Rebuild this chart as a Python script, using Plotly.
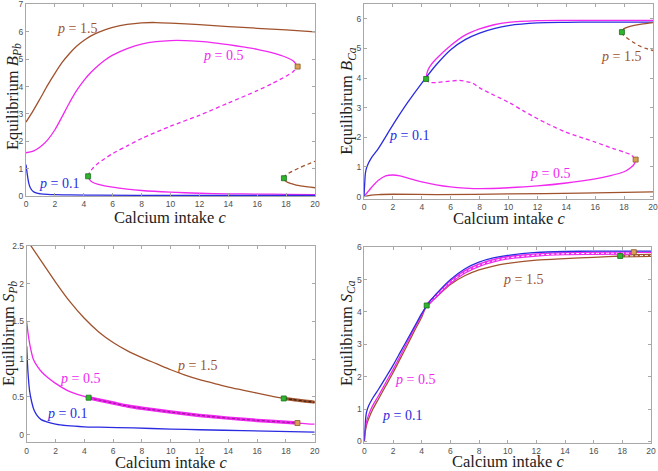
import plotly.graph_objects as go
from plotly.subplots import make_subplots

# ── colours ──────────────────────────────────────────────────────────
BLUE = "#2B2BE0"
MAGENTA = "#F028F0"
BROWN = "#A0522D"
GREEN = "#2DB52D"
ORANGE = "#D9A055"
FRAME = "#A8A8A8"
TICK = "#505050"
SERIF = "Liberation Serif, Times New Roman, serif"

# ── top-left: equilibrium B_Pb ───────────────────────────────────────
bpb_c_15 = [0, 0.5, 1, 1.5, 2, 2.5, 3, 3.5, 4, 4.5, 5, 5.5, 6, 7, 8, 9, 10, 12, 14, 16, 18, 20]
bpb_y_15 = [2.7, 3.12, 3.58, 4.05, 4.48, 4.88, 5.2, 5.47, 5.68, 5.85, 5.98, 6.08, 6.16, 6.27, 6.33, 6.34, 6.32, 6.26, 6.19, 6.13, 6.07, 6.0]
bpb_c_15_lo = [17.85, 17.9, 18, 18.3, 18.7, 19, 19.5, 20]
bpb_y_15_lo = [0.65, 0.58, 0.53, 0.46, 0.4, 0.37, 0.33, 0.3]
bpb_c_15_un = [17.85, 17.95, 18.2, 18.6, 19, 19.5, 20]
bpb_y_15_un = [0.65, 0.75, 0.84, 0.95, 1.05, 1.16, 1.27]
bpb_c_05_hi = [0, 0.5, 1, 1.5, 2, 2.5, 3, 3.5, 4, 4.5, 5, 5.5, 6, 7, 8, 9, 10, 11, 12, 13, 14, 15, 16, 17, 18, 18.5, 18.8]
bpb_y_05_hi = [1.58, 1.64, 1.8, 2.05, 2.42, 2.9, 3.4, 3.85, 4.22, 4.52, 4.77, 4.98, 5.15, 5.39, 5.55, 5.64, 5.68, 5.68, 5.65, 5.6, 5.53, 5.45, 5.36, 5.24, 5.07, 4.93, 4.73]
bpb_c_05_un = [4.3, 4.4, 4.6, 5, 6, 7, 8, 10, 12, 14, 16, 17, 18, 18.5, 18.8]
bpb_y_05_un = [0.72, 0.86, 1.0, 1.2, 1.55, 1.83, 2.1, 2.55, 2.95, 3.4, 3.85, 4.1, 4.38, 4.55, 4.73]
bpb_c_05_lo = [4.3, 4.4, 4.6, 5, 6, 7, 8, 10, 12, 14, 16, 18, 20]
bpb_y_05_lo = [0.72, 0.6, 0.5, 0.42, 0.32, 0.25, 0.2, 0.14, 0.1, 0.08, 0.07, 0.06, 0.05]
bpb_c_01 = [0, 0.05, 0.1, 0.2, 0.3, 0.5, 0.75, 1, 1.5, 2, 3, 5, 10, 15, 20]
bpb_y_01 = [1.15, 0.95, 0.75, 0.45, 0.3, 0.16, 0.1, 0.08, 0.06, 0.05, 0.04, 0.03, 0.02, 0.02, 0.02]
bpb_lp = ([4.3, 17.85], [0.72, 0.65])
bpb_bp = ([18.8], [4.73])

# ── top-right: equilibrium B_Ca ──────────────────────────────────────
bca_c_01 = [0, 0.05, 0.1, 0.2, 0.5, 1, 2, 3, 4, 5, 6, 7, 8, 9, 10, 12, 14, 16, 18, 20]
bca_y_01 = [0, 0.45, 0.8, 1.01, 1.3, 1.63, 2.42, 3.16, 3.83, 4.45, 4.96, 5.3, 5.52, 5.67, 5.77, 5.86, 5.88, 5.89, 5.89, 5.89]
bca_c_05_hi = [4.3, 4.35, 4.45, 4.6, 5, 6, 7, 8, 9, 10, 12, 14, 16, 18, 20]
bca_y_05_hi = [3.97, 4.15, 4.3, 4.42, 4.65, 5.1, 5.45, 5.66, 5.8, 5.88, 5.94, 5.95, 5.95, 5.95, 5.95]
bca_c_05_un = [4.3, 4.5, 5, 6, 6.6, 7.5, 8, 9, 10.1, 11, 12.6, 14, 15.2, 16, 17.2, 18, 18.5, 18.8]
bca_y_05_un = [3.97, 3.86, 3.85, 3.9, 3.92, 3.83, 3.67, 3.42, 3.16, 2.9, 2.48, 2.17, 1.97, 1.84, 1.63, 1.5, 1.4, 1.25]
bca_c_05_lo = [0, 0.5, 1, 1.5, 2, 2.5, 3, 4, 5, 6, 7, 8, 10, 12, 14, 16, 17, 18, 18.4, 18.7, 18.8]
bca_y_05_lo = [0, 0.3, 0.55, 0.7, 0.73, 0.7, 0.63, 0.5, 0.4, 0.33, 0.29, 0.27, 0.3, 0.36, 0.46, 0.6, 0.7, 0.84, 0.96, 1.1, 1.25]
bca_c_15_lo = [0, 0.5, 1, 2, 5, 10, 15, 20]
bca_y_15_lo = [0, 0.05, 0.07, 0.08, 0.07, 0.09, 0.12, 0.16]
bca_c_15_hi = [17.85, 17.9, 18, 18.3, 18.7, 19.2, 20]
bca_y_15_hi = [5.55, 5.62, 5.67, 5.73, 5.78, 5.82, 5.87]
bca_c_15_un = [17.85, 17.95, 18.2, 18.6, 19, 19.5, 20]
bca_y_15_un = [5.55, 5.45, 5.35, 5.22, 5.1, 5.0, 4.93]
bca_lp = ([4.3, 17.85], [3.97, 5.55])
bca_bp = ([18.8], [1.25])

# ── bottom-left: equilibrium S_Pb ────────────────────────────────────
spb_c_15 = [0, 1, 2, 3, 4, 5, 6, 7, 8, 9, 10, 11, 12, 13, 14, 15, 16, 17, 17.85, 19, 20]
spb_y_15 = [2.58, 2.3, 2.02, 1.76, 1.54, 1.36, 1.22, 1.11, 1.02, 0.94, 0.86, 0.79, 0.73, 0.68, 0.63, 0.59, 0.55, 0.51, 0.48, 0.455, 0.43]
spb_c_15_band = [17.85, 18.5, 19.2, 20]
spb_y_15_band = [0.48, 0.465, 0.447, 0.43]
spb_c_05 = [0, 0.1, 0.23, 0.46, 0.75, 1.04, 1.5, 2, 3, 4.3, 5, 6, 7, 8, 10, 12, 14, 16, 18, 18.8, 19.5, 20]
spb_y_05 = [1.49, 1.33, 1.18, 1.0, 0.9, 0.83, 0.75, 0.68, 0.57, 0.49, 0.46, 0.42, 0.38, 0.35, 0.3, 0.256, 0.22, 0.19, 0.165, 0.155, 0.145, 0.14]
spb_c_05_band = [4.3, 5, 6, 7, 8, 10, 12, 14, 16, 18, 18.8]
spb_y_05_band = [0.49, 0.46, 0.42, 0.38, 0.35, 0.3, 0.256, 0.22, 0.19, 0.165, 0.155]
spb_c_01 = [0, 0.05, 0.12, 0.2, 0.35, 0.5, 0.7, 1, 1.4, 2, 2.8, 4, 5, 7.4, 10, 12, 15, 20]
spb_y_01 = [1.17, 0.95, 0.74, 0.58, 0.43, 0.33, 0.26, 0.2, 0.17, 0.14, 0.12, 0.105, 0.1, 0.09, 0.075, 0.066, 0.055, 0.035]
spb_lp = ([4.3, 17.85], [0.49, 0.48])
spb_bp = ([18.8], [0.155])

# ── bottom-right: equilibrium S_Ca ───────────────────────────────────
sca_c = [0, 0.05, 0.15, 0.3, 0.6, 1, 1.5, 2, 2.5, 3, 3.5, 4, 4.35, 5, 6, 7, 8, 9, 10, 12, 14, 16, 18, 20]
sca_y_01 = [0, 0.5, 0.9, 1.1, 1.35, 1.62, 1.98, 2.35, 2.75, 3.15, 3.55, 3.95, 4.2, 4.55, 5.0, 5.33, 5.54, 5.67, 5.75, 5.84, 5.87, 5.88, 5.88, 5.88]
sca_y_05 = [0, 0.3, 0.6, 0.82, 1.12, 1.42, 1.82, 2.22, 2.64, 3.07, 3.5, 3.9, 4.2, 4.52, 4.95, 5.27, 5.48, 5.62, 5.71, 5.79, 5.83, 5.84, 5.84, 5.84]
sca_y_15 = [0, 0.25, 0.5, 0.7, 1.0, 1.32, 1.72, 2.12, 2.55, 2.98, 3.42, 3.84, 4.2, 4.45, 4.85, 5.12, 5.3, 5.42, 5.5, 5.6, 5.65, 5.69, 5.73, 5.75]
sca_c_05_band = [4.35, 5, 6, 7, 8, 9, 10, 12, 14, 16, 18.8]
sca_y_05_band = [4.2, 4.5, 4.92, 5.23, 5.44, 5.58, 5.67, 5.76, 5.8, 5.81, 5.82]
sca_c_15_band = [17.85, 19, 20]
sca_y_15_band = [5.73, 5.74, 5.75]
sca_lp = ([4.35, 17.85], [4.2, 5.73])
sca_bp = ([18.8], [5.85])

# label positions (c, value) per panel
labels = [
    (1, 1, "1.5", BROWN, 3.55, 6.12), (1, 1, "0.5", MAGENTA, 13.6, 5.12), (1, 1, "0.1", BLUE, 2.3, 0.45),
    (1, 2, "0.1", BLUE, 3.1, 2.05), (1, 2, "1.5", BROWN, 17.8, 4.74), (1, 2, "0.5", MAGENTA, 12.9, 0.79),
    (2, 1, "1.5", BROWN, 11.8, 0.92), (2, 1, "0.5", MAGENTA, 3.7, 0.74), (2, 1, "0.1", BLUE, 2.8, 0.28),
    (2, 2, "1.5", BROWN, 11.1, 5.0), (2, 2, "0.5", MAGENTA, 3.55, 1.9), (2, 2, "0.1", BLUE, 2.6, 0.81),
]

fig = make_subplots(rows=2, cols=2)


def line(x, y, color, row, col, width=1.3, dash="solid"):
    fig.add_trace(go.Scatter(
        x=x, y=y, mode="lines",
        line=dict(color=color, width=width, dash=dash, shape="spline", smoothing=0.8),
        showlegend=False, hoverinfo="skip",
    ), row=row, col=col)


def points(xy, color, edge, row, col):
    fig.add_trace(go.Scatter(
        x=xy[0], y=xy[1], mode="markers",
        marker=dict(symbol="square", size=5, color=color, line=dict(color=edge, width=0.8)),
        showlegend=False, hoverinfo="skip",
    ), row=row, col=col)


# B_Pb
line(bpb_c_15, bpb_y_15, BROWN, 1, 1)
line(bpb_c_15_lo, bpb_y_15_lo, BROWN, 1, 1)
line(bpb_c_15_un, bpb_y_15_un, BROWN, 1, 1, dash="4px,3px")
line(bpb_c_05_hi, bpb_y_05_hi, MAGENTA, 1, 1)
line(bpb_c_05_un, bpb_y_05_un, MAGENTA, 1, 1, dash="4px,3px")
line(bpb_c_05_lo, bpb_y_05_lo, MAGENTA, 1, 1)
line(bpb_c_01, bpb_y_01, BLUE, 1, 1)
points(bpb_lp, GREEN, "#1C6E1C", 1, 1)
points(bpb_bp, ORANGE, "#8A5A25", 1, 1)

# B_Ca
line(bca_c_15_lo, bca_y_15_lo, BROWN, 1, 2)
line(bca_c_05_lo, bca_y_05_lo, MAGENTA, 1, 2)
line(bca_c_05_un, bca_y_05_un, MAGENTA, 1, 2, dash="4px,3px")
line(bca_c_05_hi, bca_y_05_hi, MAGENTA, 1, 2)
line(bca_c_01, bca_y_01, BLUE, 1, 2)
line(bca_c_15_hi, bca_y_15_hi, BROWN, 1, 2)
line(bca_c_15_un, bca_y_15_un, BROWN, 1, 2, dash="4px,3px")
points(bca_lp, GREEN, "#1C6E1C", 1, 2)
points(bca_bp, ORANGE, "#8A5A25", 1, 2)

# S_Pb
line(spb_c_15, spb_y_15, BROWN, 2, 1)
line(spb_c_15_band, spb_y_15_band, BROWN, 2, 1, width=3.2)
line(spb_c_15_band, spb_y_15_band, "#3A2015", 2, 1, width=1.2, dash="3px,2px")
line(spb_c_05, spb_y_05, MAGENTA, 2, 1)
line(spb_c_05_band, spb_y_05_band, MAGENTA, 2, 1, width=3.5)
line(spb_c_05_band, spb_y_05_band, "#A01AA0", 2, 1, width=1.2, dash="3px,2px")
line(spb_c_01, spb_y_01, BLUE, 2, 1)
points(spb_lp, GREEN, "#1C6E1C", 2, 1)
points(spb_bp, ORANGE, "#8A5A25", 2, 1)

# S_Ca
line(sca_c, sca_y_15, BROWN, 2, 2)
line(sca_c_15_band, sca_y_15_band, BROWN, 2, 2, width=3.2)
line(sca_c_15_band, sca_y_15_band, "white", 2, 2, width=1.0, dash="3px,2px")
line(sca_c, sca_y_05, MAGENTA, 2, 2)
line(sca_c_05_band, sca_y_05_band, MAGENTA, 2, 2, width=3.2)
line(sca_c_05_band, sca_y_05_band, "white", 2, 2, width=1.0, dash="3px,2px")
line(sca_c, sca_y_01, BLUE, 2, 2)
points(sca_lp, GREEN, "#1C6E1C", 2, 2)
points(sca_bp, ORANGE, "#8A5A25", 2, 2)

for row, col, p, color, cx, cy in labels:
    fig.add_annotation(
        text=f"<i>p</i> = {p}", x=cx, y=cy, row=row, col=col, showarrow=False,
        font=dict(family=SERIF, size=14, color=color),
    )

# ── axes ─────────────────────────────────────────────────────────────
axis_common = dict(
    showline=True, linecolor=FRAME, linewidth=1, mirror="ticks",
    ticks="inside", ticklen=3, tickcolor=FRAME, showgrid=False, zeroline=False,
    tickfont=dict(family="Liberation Sans, Arial, sans-serif", size=8.5, color=TICK),
    automargin=False, ticklabeloverflow="allow",
)
domains = {
    (1, 1): ([0.0395, 0.4787], [0.5839, 0.9905]),
    (1, 2): ([0.5532, 0.9924], [0.5775, 0.9915]),
    (2, 1): ([0.0406, 0.4783], [0.0609, 0.4783]),
    (2, 2): ([0.5537, 0.9894], [0.0594, 0.4750]),
}
yranges = {(1, 1): ([0, 7], 1), (1, 2): ([-0.08, 6.5], 1), (2, 1): ([-0.1, 2.5], 0.5), (2, 2): ([-0.05, 6], 1)}
for (r, c), (xd, yd) in domains.items():
    yr, dt = yranges[(r, c)]
    fig.update_xaxes(domain=xd, range=[0, 20], dtick=2, tick0=0, row=r, col=c, **axis_common)
    fig.update_yaxes(domain=yd, range=yr, dtick=dt, tick0=0, row=r, col=c, **axis_common)

# axis titles as annotations (paper coordinates)
xtitle = "Calcium intake <i>c</i>"
for x, y in [(0.2584, 0.5372), (0.7728, 0.5360), (0.2595, 0.0176), (0.7716, 0.0198)]:
    fig.add_annotation(text=xtitle, x=x, y=y, xref="paper", yref="paper", showarrow=False,
                       xanchor="center", yanchor="middle",
                       font=dict(family=SERIF, size=16.5, color="#222222"))
ytitles = [
    ("Equilibrium <i>B</i><sub><i>Pb</i></sub>", 0.0190, 0.795),
    ("Equilibirum <i>B</i><sub><i>Ca</i></sub>", 0.5274, 0.786),
    ("Equilibirum <i>S</i><sub><i>Pb</i></sub>", 0.0135, 0.293),
    ("Equilibirum <i>S</i><sub><i>Ca</i></sub>", 0.5274, 0.293),
]
for text, x, y in ytitles:
    fig.add_annotation(text=text, x=x, y=y, xref="paper", yref="paper", showarrow=False,
                       textangle=-90, xanchor="center", yanchor="middle",
                       font=dict(family=SERIF, size=16.5, color="#222222"))

fig.update_layout(
    template="none",
    width=658, height=471,
    margin=dict(l=0, r=0, t=0, b=0),
    paper_bgcolor="white", plot_bgcolor="white",
    showlegend=False,
)

# page body has a default 8px margin; drop it so the figure fills the window
fig.write_html("out.html", config={"displayModeBar": False},
               post_script="document.body.style.margin='0px';")
